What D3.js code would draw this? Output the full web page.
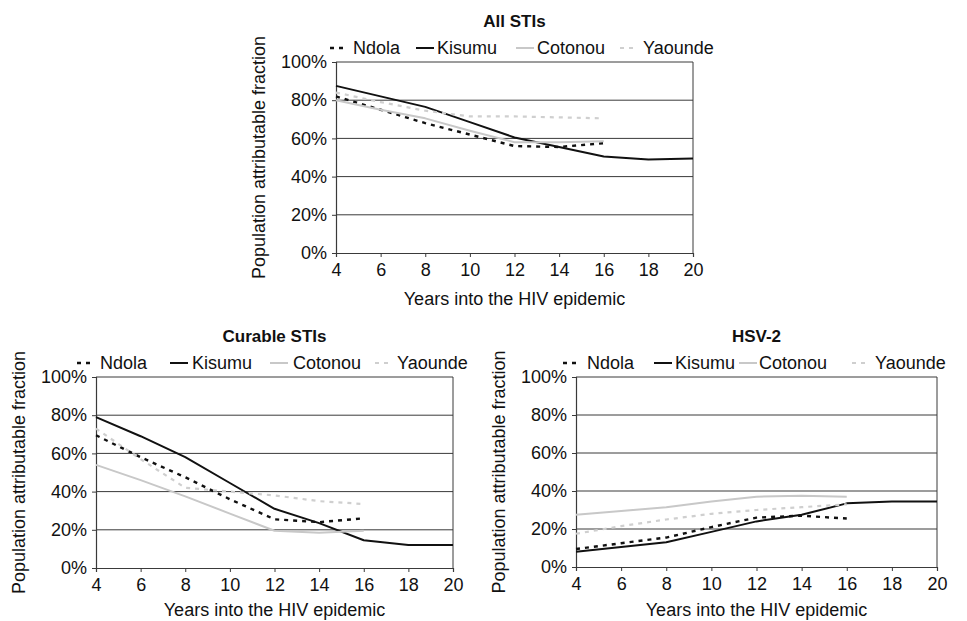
<!DOCTYPE html>
<html>
<head>
<meta charset="utf-8">
<script src="https://cdn.jsdelivr.net/npm/d3@7"></script>
<style>
  html, body { margin: 0; padding: 0; background: #fff; }
  svg { display: block; }
  text { font-family: "Liberation Sans", Arial, sans-serif; fill: #111; }
</style>
</head>
<body>
<svg id="chart" width="967" height="621"></svg>
<script>
// ---- data ----
const years = [4, 6, 8, 10, 12, 14, 16, 18, 20];
const seriesNames = ["Ndola", "Kisumu", "Cotonou", "Yaounde"];
const yTicks = [0, 20, 40, 60, 80, 100];
const xTicks = [4, 6, 8, 10, 12, 14, 16, 18, 20];
const chartTitles = ["All STIs", "Curable STIs", "HSV-2"];
const xAxisTitle = "Years into the HIV epidemic";
const yAxisTitle = "Population attributable fraction";

// All STIs
const allNdola   = [82, 75, 68, 62, 56, 55.5, 57.5];
const allKisumu  = [87.5, 82, 76.5, 68.5, 60.5, 55.5, 50.5, 49, 49.5];
const allCotonou = [80, 75, 70.5, 64, 58, 58, 58.5];
const allYaounde = [84, 79, 74.5, 71.5, 71.5, 71, 70.5];

// Curable STIs
const curNdola   = [69.5, 58, 47.5, 36, 25.5, 24, 26];
const curKisumu  = [79, 69, 58, 44.5, 31, 23.5, 14.5, 12, 12];
const curCotonou = [54, 46, 37.5, 28.5, 19.5, 18.5, 19.5];
const curYaounde = [73, 57, 42, 40, 38, 35, 33.5];

// HSV-2
const hsvNdola   = [9.5, 12.5, 15.5, 21, 26, 27, 25.5];
const hsvKisumu  = [8, 10.5, 13, 18.5, 24, 27.5, 33.5, 34.5, 34.5];
const hsvCotonou = [27.5, 29.5, 31.5, 34.5, 37, 37.5, 37];
const hsvYaounde = [17.5, 21.5, 25, 28, 30, 31.5, 33];

// ---- styles ----
const styles = {
  Ndola:   { color: "#111", width: 2.4, dash: "4,5" },
  Kisumu:  { color: "#111", width: 2,   dash: null },
  Cotonou: { color: "#c8c8c8", width: 2, dash: null },
  Yaounde: { color: "#cfcfcf", width: 2.2, dash: "4,5" }
};

const svg = d3.select("#chart");

function drawPanel(opts) {
  const { left, top, width, height, title, data, legendX, xTitleOffset } = opts;
  const g = svg.append("g");

  const x = d3.scaleLinear().domain([4, 20]).range([left, left + width]);
  const y = d3.scaleLinear().domain([0, 100]).range([top + height, top]);

  // gridlines
  g.selectAll("line.grid").data(yTicks.filter(d => d > 0)).enter()
    .append("line")
    .attr("x1", left).attr("x2", left + width)
    .attr("y1", d => y(d)).attr("y2", d => y(d))
    .attr("stroke", "#3a3a3a").attr("stroke-width", 1);

  // frame right
  g.append("line")
    .attr("x1", left + width).attr("x2", left + width)
    .attr("y1", top).attr("y2", top + height)
    .attr("stroke", "#3a3a3a").attr("stroke-width", 1);

  // axes
  const xAxis = d3.axisBottom(x).tickValues(xTicks).tickSize(4).tickPadding(6).tickFormat(d3.format("d"));
  const yAxis = d3.axisLeft(y).tickValues(yTicks).tickSize(4).tickPadding(5).tickFormat(d => d + "%");

  const gx = g.append("g").attr("transform", `translate(0,${top + height})`).call(xAxis);
  const gy = g.append("g").attr("transform", `translate(${left},0)`).call(yAxis);
  [gx, gy].forEach(a => {
    a.select(".domain").attr("stroke", "#3a3a3a").attr("stroke-width", 1.2);
    a.selectAll(".tick line").attr("stroke", "#3a3a3a");
    a.selectAll("text").attr("font-size", 18).attr("fill", "#111")
      .style("font-family", '"Liberation Sans", Arial, sans-serif');
  });

  // lines
  const line = d3.line().x(d => x(d[0])).y(d => y(d[1]));
  seriesNames.forEach(name => {
    const vals = data[name];
    const pts = vals.map((v, i) => [years[i], v]);
    const s = styles[name];
    g.append("path")
      .attr("d", line(pts))
      .attr("fill", "none")
      .attr("stroke", s.color)
      .attr("stroke-width", s.width)
      .attr("stroke-dasharray", s.dash)
      .attr("stroke-linejoin", "round");
  });

  // title
  g.append("text")
    .attr("x", left + width / 2).attr("y", top - 35)
    .attr("text-anchor", "middle")
    .attr("font-size", 17).attr("font-weight", "bold")
    .text(title);

  // legend
  const ly = top - 8;
  legendX.forEach((lx, i) => {
    const name = seriesNames[i];
    const s = styles[name];
    g.append("line")
      .attr("x1", lx[0]).attr("x2", lx[0] + 18)
      .attr("y1", ly - 6).attr("y2", ly - 6)
      .attr("stroke", s.color).attr("stroke-width", s.width)
      .attr("stroke-dasharray", s.dash);
    g.append("text")
      .attr("x", lx[1]).attr("y", ly)
      .attr("font-size", 18)
      .text(name);
  });

  // x-axis title
  g.append("text")
    .attr("x", left + width / 2).attr("y", top + height + xTitleOffset)
    .attr("text-anchor", "middle")
    .attr("font-size", 18)
    .text(xAxisTitle);

  // y-axis title
  g.append("text")
    .attr("transform", `translate(${left - 77},${top + height / 2}) rotate(-90)`)
    .attr("text-anchor", "middle")
    .attr("dy", "0.35em")
    .attr("font-size", 18)
    .text(yAxisTitle);
}

drawPanel({
  left: 336, top: 62, width: 357, height: 191,
  title: chartTitles[0],
  data: { Ndola: allNdola, Kisumu: allKisumu, Cotonou: allCotonou, Yaounde: allYaounde },
  legendX: [[330, 353], [416, 437], [516, 537], [620, 643]],
  xTitleOffset: 52
});

drawPanel({
  left: 96, top: 377, width: 357, height: 191,
  title: chartTitles[1],
  data: { Ndola: curNdola, Kisumu: curKisumu, Cotonou: curCotonou, Yaounde: curYaounde },
  legendX: [[77, 100], [170, 192], [270, 293], [375, 397]],
  xTitleOffset: 48
});

drawPanel({
  left: 576, top: 377, width: 361, height: 190,
  title: chartTitles[2],
  data: { Ndola: hsvNdola, Kisumu: hsvKisumu, Cotonou: hsvCotonou, Yaounde: hsvYaounde },
  legendX: [[563, 587], [654, 675], [739, 759], [852, 875]],
  xTitleOffset: 49
});
</script>
</body>
</html>
